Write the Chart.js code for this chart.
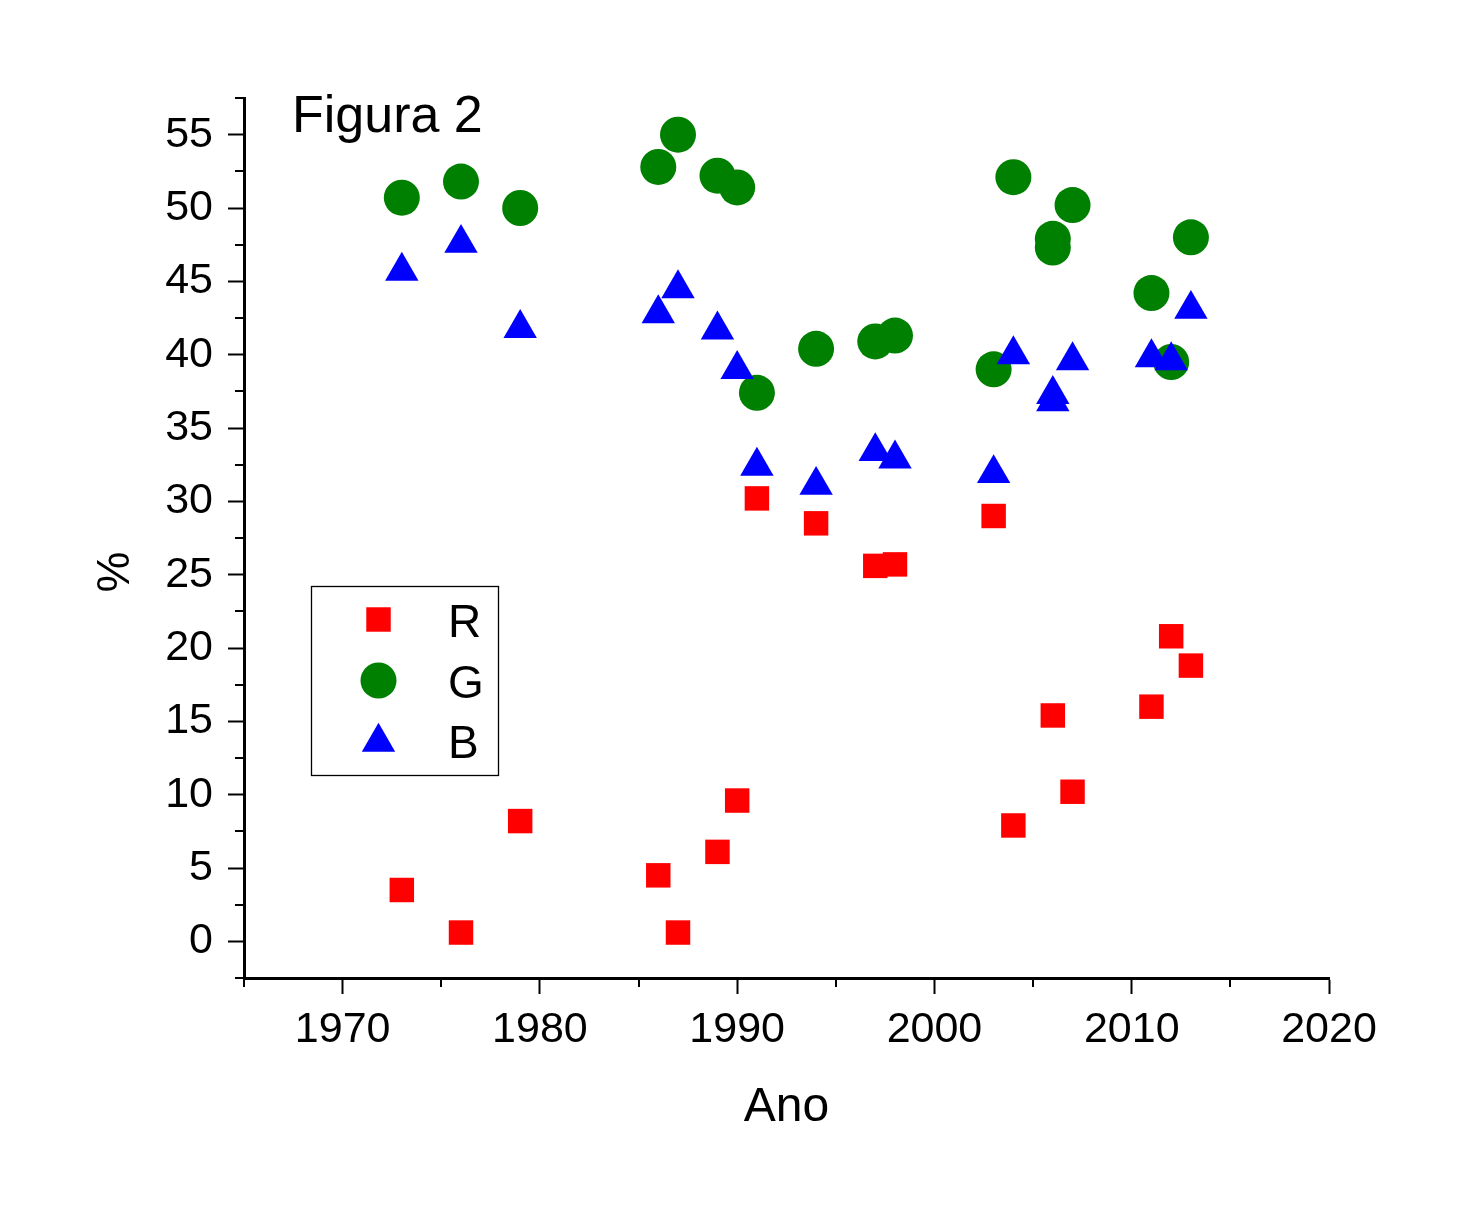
<!DOCTYPE html>
<html>
<head>
<meta charset="utf-8">
<title>Figura 2</title>
<script src="https://cdn.jsdelivr.net/npm/chart.js@4.4.1/dist/chart.umd.min.js"></script>
<style>
  html, body { margin: 0; padding: 0; background: #fff; }
  #wrap { width: 1465px; height: 1218px; }
</style>
</head>
<body>
<div id="wrap"><canvas id="figChart" width="1465" height="1218"></canvas></div>
<script>
// R values: one point per year
const yearsR = [1973, 1976, 1979, 1986, 1987, 1989, 1990, 1991, 1994, 1997, 1998, 2003, 2004, 2006, 2007, 2011, 2012, 2013];
const valuesR = [3.5, 0.6, 8.2, 4.5, 0.6, 6.1, 9.6, 30.2, 28.5, 25.6, 25.7, 29.0, 7.9, 15.4, 10.2, 16.0, 20.8, 18.8];

// G and B share the same years (2006 shows up twice)
const yearsGB = [1973, 1976, 1979, 1986, 1987, 1989, 1990, 1991, 1994, 1997, 1998, 2003, 2004, 2006, 2006, 2007, 2011, 2012, 2013];
const valuesG = [50.7, 51.8, 50.0, 52.8, 55.0, 52.2, 51.4, 37.4, 40.4, 40.9, 41.3, 39.0, 52.1, 47.9, 47.3, 50.2, 44.2, 39.5, 48.0];
const valuesB = [45.7, 47.6, 41.8, 42.8, 44.5, 41.7, 39.0, 32.4, 31.1, 33.4, 32.9, 31.9, 40.0, 37.3, 36.8, 39.6, 39.8, 39.6, 43.1];

const seriesNames = ["R", "G", "B"];
const xTickValues = [1970, 1980, 1990, 2000, 2010, 2020];
const yTickValues = [0, 5, 10, 15, 20, 25, 30, 35, 40, 45, 50, 55];
const fontFamily = "'Liberation Sans', Arial, sans-serif";

const toPoints = (xs, ys) => xs.map((x, i) => ({ x: x, y: ys[i] }));

function drawMarker(ctx, style, cx, cy, r) {
  ctx.beginPath();
  if (style === "rect") {
    const s = r * Math.SQRT1_2;
    ctx.rect(cx - s, cy - s, 2 * s, 2 * s);
  } else if (style === "circle") {
    ctx.arc(cx, cy, r, 0, Math.PI * 2);
  } else if (style === "triangle") {
    const w = r * Math.sin(Math.PI * 2 / 3);
    ctx.moveTo(cx, cy - r);
    ctx.lineTo(cx + w, cy + r / 2);
    ctx.lineTo(cx - w, cy + r / 2);
    ctx.closePath();
  }
  ctx.fill();
}

// minor ticks, texts and the boxed legend
const extras = {
  id: "extras",
  afterDraw(chart) {
    const ctx = chart.ctx;
    const xs = chart.scales.x;
    const ys = chart.scales.y;
    ctx.save();

    ctx.strokeStyle = "#000";
    ctx.lineWidth = 2;
    ctx.beginPath();
    for (let v = 1965; v <= 2020; v += 10) {
      const px = Math.round(xs.getPixelForValue(v));
      ctx.moveTo(px, xs.top);
      ctx.lineTo(px, xs.top + 9);
    }
    for (let v = -2.5; v <= 57.5; v += 5) {
      const py = Math.round(ys.getPixelForValue(v));
      ctx.moveTo(ys.right, py);
      ctx.lineTo(ys.right - 9, py);
    }
    ctx.stroke();

    ctx.fillStyle = "#000";
    ctx.font = "52px " + fontFamily;
    ctx.textAlign = "left";
    ctx.textBaseline = "alphabetic";
    ctx.fillText("Figura 2", 292, 132);

    ctx.save();
    ctx.translate(129, 572);
    ctx.rotate(-Math.PI / 2);
    ctx.font = "46px " + fontFamily;
    ctx.textAlign = "center";
    ctx.fillText("%", 0, 0);
    ctx.restore();

    // legend box
    ctx.lineWidth = 1.3;
    ctx.strokeRect(311.5, 586.5, 187, 189);
    const rows = [619.5, 680.5, 742];
    chart.data.datasets.forEach((ds, i) => {
      ctx.fillStyle = ds.backgroundColor;
      drawMarker(ctx, ds.pointStyle, 378.5, rows[i], ds.pointRadius);
    });
    ctx.fillStyle = "#000";
    ctx.font = "46px " + fontFamily;
    ctx.textAlign = "left";
    const baselines = [637, 698, 758];
    chart.data.datasets.forEach((ds, i) => {
      ctx.fillText(ds.label, 448, baselines[i]);
    });

    ctx.restore();
  },
};

new Chart(document.getElementById("figChart"), {
  type: "scatter",
  data: {
    datasets: [
      {
        label: seriesNames[0],
        data: toPoints(yearsR, valuesR),
        pointStyle: "rect",
        pointRadius: 17.3,
        pointHoverRadius: 17.3,
        backgroundColor: "#FF0000",
        borderWidth: 0,
        order: 0,
      },
      {
        label: seriesNames[1],
        data: toPoints(yearsGB, valuesG),
        pointStyle: "circle",
        pointRadius: 18,
        pointHoverRadius: 18,
        backgroundColor: "#008000",
        borderWidth: 0,
        order: 2,
      },
      {
        label: seriesNames[2],
        data: toPoints(yearsGB, valuesB),
        pointStyle: "triangle",
        pointRadius: 19.3,
        pointHoverRadius: 19.3,
        backgroundColor: "#0000FF",
        borderWidth: 0,
        order: 1,
      },
    ],
  },
  options: {
    responsive: false,
    animation: false,
    events: [],
    layout: {
      padding: { top: 98, right: 136, bottom: 0, left: 0 },
    },
    plugins: {
      legend: { display: false },
      tooltip: { enabled: false },
    },
    scales: {
      x: {
        type: "linear",
        min: 1965,
        max: 2020,
        afterBuildTicks(scale) {
          scale.ticks = xTickValues.map((v) => ({ value: v }));
        },
        afterFit(scale) {
          scale.height = 240;
        },
        ticks: {
          padding: 10,
          color: "#000",
          font: { family: fontFamily, size: 43 },
          callback: (v) => String(v),
        },
        grid: {
          drawOnChartArea: false,
          tickLength: 16,
          tickWidth: 2,
          tickColor: "#000",
        },
        border: { color: "#000", width: 3 },
        title: {
          display: true,
          text: "Ano",
          color: "#000",
          font: { family: fontFamily, size: 48 },
          padding: { top: 0, bottom: 81 },
        },
      },
      y: {
        min: -2.5,
        max: 57.5,
        afterBuildTicks(scale) {
          scale.ticks = yTickValues.map((v) => ({ value: v }));
        },
        afterFit(scale) {
          scale.width = 244;
        },
        ticks: {
          padding: 15,
          color: "#000",
          font: { family: fontFamily, size: 43 },
          callback: (v) => String(v),
        },
        grid: {
          drawOnChartArea: false,
          tickLength: 16,
          tickWidth: 2,
          tickColor: "#000",
        },
        border: { color: "#000", width: 3 },
      },
    },
  },
  plugins: [extras],
});
</script>
</body>
</html>
